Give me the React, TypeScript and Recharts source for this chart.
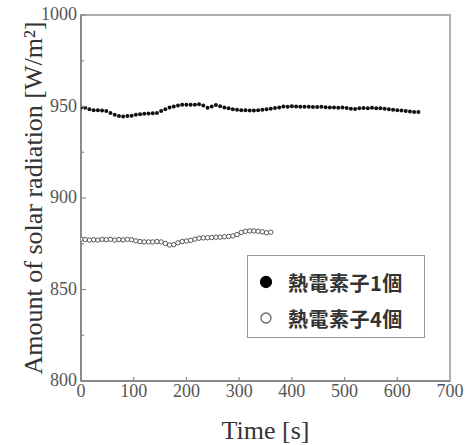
import {
  ScatterChart, Scatter, XAxis, YAxis, ReferenceArea
} from "recharts"

// samples every 8 s
const times1 = [
  0, 8, 16, 24, 32, 40, 48, 56, 64, 72, 80, 88, 96, 104, 112, 120, 128, 136, 144, 152,
  160, 168, 176, 184, 192, 200, 208, 216, 224, 232, 240, 248, 256, 264, 272, 280, 288, 296, 304, 312,
  320, 328, 336, 344, 352, 360, 368, 376, 384, 392, 400, 408, 416, 424, 432, 440, 448, 456, 464, 472,
  480, 488, 496, 504, 512, 520, 528, 536, 544, 552, 560, 568, 576, 584, 592, 600, 608, 616, 624, 632, 640
]
const values1 = [
  949.5, 949.3, 948.5, 948, 948, 947.8, 947.5, 946.5, 945.5, 944.8, 944.5, 944.8, 945, 945.5, 945.8, 946, 946.2, 946.3, 946.5, 947.5,
  948.5, 949.5, 950, 950.5, 951, 951, 951, 951, 951.2, 950.5, 949.3, 950, 950.8, 950.2, 949.5, 949, 948.5, 948.2, 948, 948,
  947.8, 947.8, 948, 948.2, 948.5, 948.8, 949.2, 949.5, 950, 949.8, 950.2, 950, 949.8, 949.8, 949.8, 949.7, 949.7, 949.8, 949.6, 949.5,
  949.5, 949.3, 949.4, 949.2, 948.8, 948.6, 949, 949.2, 949, 949.3, 949, 949.1, 948.8, 948.5, 948.2, 948, 947.8, 947.5, 947.2, 947, 947
]

const times4 = [
  0, 8, 16, 24, 32, 40, 48, 56, 64, 72, 80, 88, 96, 104, 112, 120, 128, 136, 144, 152,
  160, 168, 176, 184, 192, 200, 208, 216, 224, 232, 240, 248, 256, 264, 272, 280, 288, 296, 304, 312,
  320, 328, 336, 344, 352, 360
]
const values4 = [
  877.5, 877.3, 877, 877.2, 877, 877.4, 877.2, 877.4, 877, 877.3, 877.1, 877.4, 877.2, 876.6, 876.2, 876, 876, 876, 876.2, 876,
  875.2, 874.3, 874.5, 875.5, 876.2, 876.5, 876.8, 877.5, 878, 878.2, 878.3, 878.4, 878.6, 878.6, 878.8, 879, 879.3, 880, 881.2, 881.8,
  882, 882, 881.8, 881.5, 881, 881.3
]

const xTicks = [0, 100, 200, 300, 400, 500, 600, 700]
const yTicks = [800, 825, 850, 875, 900, 925, 950, 975, 1000]

const seriesNames = ["熱電素子1個", "熱電素子4個"]

const data1 = times1.map((t, i) => ({ t, v: values1[i] }))
const data4 = times4.map((t, i) => ({ t, v: values4[i] }))

const AXIS = "#8a8a8a"
const TICK_TEXT = "#555"
const SERIF = "'Liberation Serif', 'DejaVu Serif', serif"

function YTick(props: any) {
  const { x, y, payload } = props
  const major = payload.value % 50 === 0
  const ax = x + 3
  return (
    <g>
      <line x1={ax} x2={ax + (major ? 5 : 3)} y1={y} y2={y} stroke={AXIS} strokeWidth={1.2} />
      {major && (
        <text x={x - 1} y={y} dy={5} textAnchor="end" fontFamily={SERIF} fontSize={18} fill={TICK_TEXT}>
          {payload.value}
        </text>
      )}
    </g>
  )
}

function XTick(props: any) {
  const { x, y, payload } = props
  const ay = y - 3
  return (
    <g>
      {payload.value !== 0 && payload.value !== 700 && (
        <line x1={x} x2={x} y1={ay} y2={ay - 4} stroke={AXIS} strokeWidth={1.2} />
      )}
      <text x={x} y={y} dy={13} textAnchor="middle" fontFamily={SERIF} fontSize={18} fill={TICK_TEXT}>
        {payload.value}
      </text>
    </g>
  )
}

function YLabel() {
  return (
    <text x={0} y={0} transform="translate(42 198) rotate(-90)" textAnchor="middle"
      fontFamily={SERIF} fontSize={26} fill="#333">
      Amount of solar radiation [W/m²]
    </text>
  )
}

function LegendBox() {
  return (
    <div style={{
      position: "absolute", left: 247, top: 255,
      width: 178, height: 83, border: "1.5px solid #999", background: "#fff",
      boxSizing: "border-box", paddingTop: 8, paddingLeft: 11
    }}>
      {seriesNames.map((name, i) => (
        <div key={name} style={{ display: "flex", alignItems: "center", height: 36 }}>
          <svg width={14} height={14} style={{ marginRight: 15 }}>
            <circle cx={7} cy={7} r={i === 0 ? 5.5 : 5}
              fill={i === 0 ? "#000" : "#fff"} stroke={i === 0 ? "#000" : "#666"} strokeWidth={1.3} />
          </svg>
          <span style={{
            fontFamily: "'Noto Sans CJK JP', sans-serif", fontSize: 20, fontWeight: 700,
            color: "#333", letterSpacing: 0.5
          }}>{name}</span>
        </div>
      ))}
    </div>
  )
}

function App() {
  return (
    <div style={{ position: "absolute", left: 0, top: 0, width: 470, height: 445, background: "#fff" }}>
      <ScatterChart width={470} height={445} margin={{ top: 15, right: 20, bottom: 0, left: 0 }}>
        <XAxis
          type="number" dataKey="t" domain={[0, 700]} ticks={xTicks}
          height={64} tickSize={0} tickMargin={3} tick={<XTick />}
          axisLine={{ stroke: AXIS, strokeWidth: 2 }} tickLine={false}
          allowDataOverflow
          label={{
            value: "Time [s]", position: "insideBottom", offset: 6,
            style: { fontFamily: SERIF, fontSize: 26, fill: "#333" }
          }}
        />
        <YAxis
          type="number" dataKey="v" domain={[800, 1000]} ticks={yTicks}
          width={81} tickSize={0} tickMargin={3} tick={<YTick />}
          axisLine={{ stroke: AXIS, strokeWidth: 2 }} tickLine={false}
          allowDataOverflow
          label={<YLabel />}
        />
        <ReferenceArea x1={0} x2={700} y1={800} y2={1000} fill="none" stroke="#b0b0b0" strokeWidth={2} />
        <Scatter
          name={seriesNames[0]} data={data1} isAnimationActive={false}
          shape={(p: any) => <circle cx={p.cx} cy={p.cy} r={2} fill="#111" />}
        />
        <Scatter
          name={seriesNames[1]} data={data4} isAnimationActive={false}
          shape={(p: any) => <circle cx={p.cx} cy={p.cy} r={2.2} fill="#fff" stroke="#555" strokeWidth={1} />}
        />
      </ScatterChart>
      <LegendBox />
    </div>
  )
}

export default App
